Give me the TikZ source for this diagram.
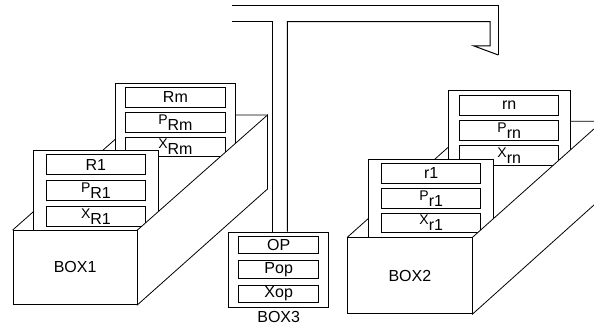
\documentclass[tikz,border=0pt]{standalone}
\usepackage{fontspec}
\setmainfont{Liberation Sans}
\usetikzlibrary{positioning}
\newcommand\fieldfont{\fontsize{16}{16}\selectfont}
\newcommand\lowpair[2]{{\fontsize{14}{14}\selectfont #1}\raisebox{-6pt}{#2}}
\tikzset{
  outline/.style={draw=black, line width=0.8pt},
  card/.style={rectangle, outline, fill=white, inner sep=0pt},
  field/.style={rectangle, outline, fill=white, inner sep=0pt,
    minimum width=99pt, minimum height=19.5pt, font=\fieldfont},
  smallfield/.style={field, minimum width=80pt, minimum height=17.5pt},
  wall/.style={outline, fill=white, line join=miter},
  boxlabel/.style={font=\fontsize{16}{16}\selectfont},
  pipe/.style={draw=black, line width=1pt, line join=miter}
}
\begin{document}
\begin{tikzpicture}[x=1pt,y=1pt,node distance=4.5pt]
\useasboundingbox (0,0) rectangle (594,-328);
\clip (0,0) rectangle (594,-328);
% BOX1 with its two cards
\node[card,boxlabel,minimum width=124pt,minimum height=74pt,anchor=north west] (box1) at (12.7,-230) {BOX1};
\draw[outline] (box1.north west) -- ++(130,115) -- ++(124,0);
\node[card,minimum width=120pt,minimum height=129pt,anchor=north west] (rmcard) at (115,-82.7) {};
\node[field,minimum width=100pt,below=4.6pt of rmcard.north] (rmname) {Rm};
\node[field,minimum width=100pt,below=of rmname] (rmprob) {\lowpair{P}{Rm}};
\node[field,minimum width=100pt,below=of rmprob] (rmx) {\lowpair{X}{Rm}};
\node[card,minimum width=124.4pt,minimum height=80pt,anchor=north west] (r1card) at (33.3,-150) {};
\node[field,minimum height=20.5pt,below=4pt of r1card.north] (r1name) {R1};
\node[field,minimum height=20.5pt,below=of r1name] (r1prob) {\lowpair{P}{R1}};
\node[field,minimum height=20.5pt,below=of r1prob] (r1x) {\lowpair{X}{R1}};
\draw[wall] (box1.north east) -- ++(130,115) -- ++(0,-74) -- (box1.south east) -- cycle;
% BOX2 with its two cards
\node[card,boxlabel,minimum width=124.4pt,minimum height=76pt,anchor=north west] (box2) at (347.3,-237.3) {BOX2};
\draw[outline] (box2.north west) -- ++(130,116) -- ++(130,0);
\node[card,minimum width=122.3pt,minimum height=132pt,anchor=north west] (rncard) at (447.7,-90) {};
\node[field,below=5.5pt of rncard.north] (rnname) {rn};
\node[field,below=of rnname] (rnprob) {\lowpair{P}{rn}};
\node[field,below=of rnprob] (rnx) {\lowpair{X}{rn}};
\node[card,minimum width=125pt,minimum height=78pt,anchor=north west] (s1card) at (368.3,-159.3) {};
\node[field,below=4pt of s1card.north] (s1name) {r1};
\node[field,below=of s1name] (s1prob) {\lowpair{P}{r1}};
\node[field,below=of s1prob] (s1x) {\lowpair{X}{r1}};
\draw[wall] (box2.north east) -- ++(130,116) -- ++(0,-76) -- (box2.south east) -- cycle;
% BOX3 and the bus above it
\node[card,minimum width=100pt,minimum height=75.6pt,anchor=north west] (box3) at (228.3,-231.7) {};
\node[smallfield,below=4.3pt of box3.north] (opname) {OP};
\node[smallfield,below=6pt of opname] (opprob) {Pop};
\node[smallfield,below=6pt of opprob] (opx) {Xop};
\node[boxlabel,below=0pt of box3] (box3label) {BOX3};
\coordinate (pipeL) at ([xshift=-5.8pt]box3.north);
\coordinate (pipeR) at ([xshift=8.7pt]box3.north);
\coordinate (busL) at (231.7,-21.7);
\coordinate (busR) at (490,-21.7);
\coordinate (tip) at (498.3,-55);
\draw[pipe] (pipeL) -- (pipeL |- busL) -- (busL);
\draw[pipe] (231.7,-5.7) -| (tip);
\draw[pipe] (pipeR) -- (pipeR |- busR) -- (busR) -- ++(0,-24.3) -- ++(-16,0) -- (tip);
\end{tikzpicture}
\end{document}
